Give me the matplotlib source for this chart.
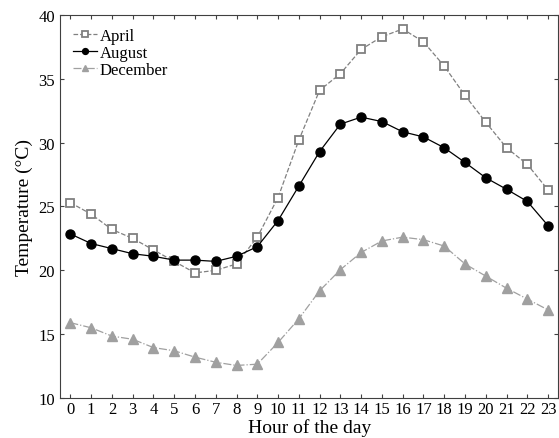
import matplotlib.pyplot as plt

plt.rcParams['font.family'] = ['Liberation Serif', 'DejaVu Serif']

hours = list(range(24))
april = [25.3, 24.4, 23.2, 22.5, 21.6, 20.7, 19.8, 20.0, 20.5, 22.6, 25.7, 30.2,
         34.1, 35.4, 37.3, 38.3, 38.9, 37.9, 36.0, 33.7, 31.6, 29.6, 28.3, 26.3]
august = [22.85, 22.1, 21.7, 21.3, 21.1, 20.8, 20.8, 20.7, 21.1, 21.85, 23.9, 26.6,
          29.3, 31.45, 32.0, 31.65, 30.85, 30.45, 29.6, 28.45, 27.25, 26.35, 25.4, 23.5]
december = [15.9, 15.5, 14.85, 14.6, 13.95, 13.7, 13.2, 12.8, 12.55, 12.65, 14.35, 16.2,
            18.4, 20.05, 21.4, 22.3, 22.6, 22.4, 21.9, 20.5, 19.55, 18.6, 17.75, 16.9]

fig = plt.figure(figsize=(5.59, 4.39), dpi=100)
ax = fig.add_axes([0.1073, 0.0911, 0.8917, 0.8725])

ax.plot(hours, april, '--', color='#808080', lw=0.9, marker='s', ms=6,
        mfc='white', mec='#808080', mew=1.3, label='April')
ax.plot(hours, august, '-', color='black', lw=0.9, marker='o', ms=6.5,
        mfc='black', mec='black', label='August')
ax.plot(hours, december, '-.', color='#a0a0a0', lw=0.9, marker='^', ms=6.5,
        mfc='#a0a0a0', mec='#a0a0a0', label='December')

ax.set_xlim(-0.5, 23.5)
ax.set_ylim(10, 40)
ax.set_xticks(hours)
ax.set_yticks(range(10, 41, 5))
ax.tick_params(direction='in', top=True, right=True, labelsize=12, length=3,
               color='#404040')
ax.tick_params(axis='x', pad=2)
for s in ax.spines.values():
    s.set_color('#404040')

ax.set_xlabel('Hour of the day', fontsize=14, labelpad=1)
ax.set_ylabel('Temperature (°C)', fontsize=14, labelpad=4)
ax.legend(loc='upper left', frameon=False, fontsize=12, handlelength=1.4,
          handletextpad=0.2, labelspacing=0.05, borderaxespad=0.4,
          markerscale=0.65)

fig.savefig('out.png', dpi=100)
